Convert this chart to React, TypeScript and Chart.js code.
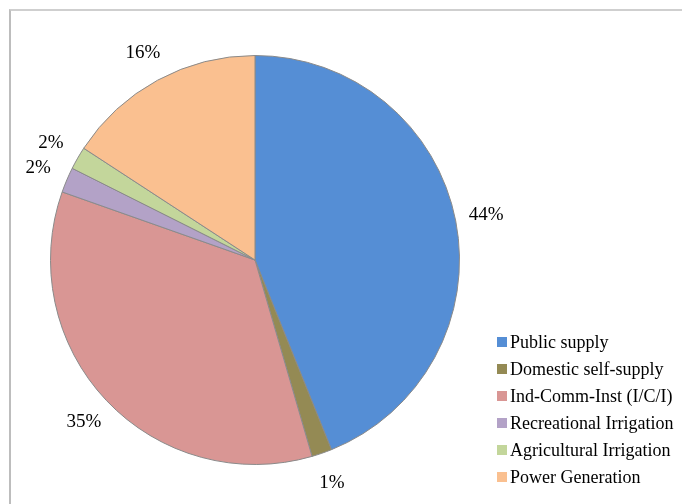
import React, { useEffect, useRef } from "react";
import { Chart, registerables } from "chart.js";

Chart.register(...registerables);

const categories = [
  "Public supply",
  "Domestic self-supply",
  "Ind-Comm-Inst (I/C/I)",
  "Recreational Irrigation",
  "Agricultural Irrigation",
  "Power Generation",
];
const shares = [43.9, 1.6, 34.9, 2.0, 1.8, 15.8];
const shareLabels = ["44%", "1%", "35%", "2%", "2%", "16%"];
const colors = ["#558ED5", "#948A54", "#D99694", "#B3A2C7", "#C3D69B", "#FAC090"];

const FONT = "'Liberation Serif', 'Times New Roman', serif";

const sliceLabelPlugin = {
  id: "sliceLabels",
  afterDatasetsDraw(chart: any) {
    const ctx = chart.ctx;
    const meta = chart.getDatasetMeta(0);
    ctx.save();
    ctx.font = `19px ${FONT}`;
    ctx.fillStyle = "#000";
    ctx.textAlign = "center";
    ctx.textBaseline = "middle";
    meta.data.forEach((arc: any, i: number) => {
      const p = arc.getProps(["x", "y", "startAngle", "endAngle", "outerRadius"], true);
      const mid = (p.startAngle + p.endAngle) / 2;
      const r = p.outerRadius + 31;
      ctx.fillText(shareLabels[i], p.x + Math.cos(mid) * r, p.y + Math.sin(mid) * r);
    });
    ctx.restore();
  },
};

const legendPlugin = {
  id: "sideLegend",
  afterDraw(chart: any) {
    const ctx = chart.ctx;
    const x0 = chart.chartArea.right + 37;
    const y0 = 342;
    const step = 27;
    ctx.save();
    ctx.font = `18px ${FONT}`;
    ctx.textAlign = "left";
    ctx.textBaseline = "middle";
    categories.forEach((c, i) => {
      const y = y0 + i * step;
      ctx.fillStyle = colors[i];
      ctx.fillRect(x0, y - 5, 10, 10);
      ctx.fillStyle = "#000";
      ctx.fillText(c, x0 + 13, y + 1);
    });
    ctx.restore();
  },
};

export default function App() {
  const ref = useRef<HTMLCanvasElement | null>(null);
  useEffect(() => {
    if (!ref.current) return;
    const chart = new Chart(ref.current, {
      type: "pie",
      data: {
        labels: categories,
        datasets: [
          {
            data: shares,
            backgroundColor: colors,
            borderColor: "#8a8a8a",
            borderWidth: 1,
          },
        ],
      },
      options: {
        responsive: false,
        maintainAspectRatio: false,
        animation: false,
        layout: { padding: { left: 50, top: 55, right: 222, bottom: 39 } },
        plugins: {
          legend: { display: false },
          tooltip: { enabled: false },
        },
      },
      plugins: [sliceLabelPlugin, legendPlugin],
    });
    return () => chart.destroy();
  }, []);
  return (
    <div style={{ position: "fixed", left: 0, top: 0, width: 682, height: 504, background: "#fff" }}>
      <div
        style={{
          position: "absolute",
          left: 9,
          top: 9,
          right: 0,
          bottom: 0,
          borderLeft: "2px solid #bdbdbd",
          borderTop: "2px solid #cfcfcf",
        }}
      />
      <canvas ref={ref} width={682} height={504} style={{ position: "absolute", left: 0, top: 0, width: 682, height: 504 }} />
    </div>
  );
}
